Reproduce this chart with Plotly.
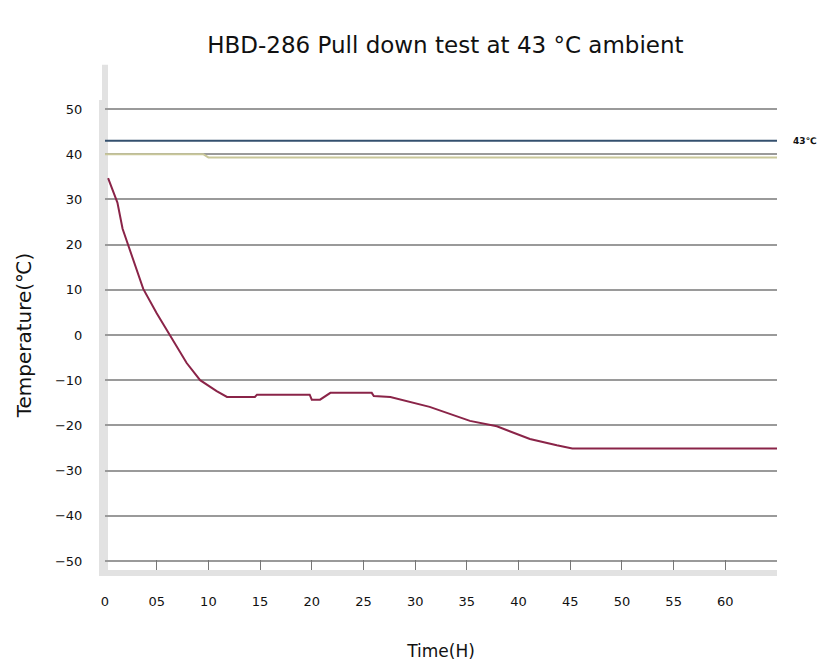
import plotly.graph_objects as go

# Data
time_h = [0.3, 1.2, 1.7, 2.7, 3.7, 5.0, 6.3, 7.9, 9.2, 10.8, 11.8, 14.5, 14.7, 19.8, 20.0, 20.8, 21.8,
          25.8, 26.0, 27.6, 31.4, 35.3, 37.9, 41.1, 43.7, 45.2, 65.0]
box_temp = [34.7, 29.3, 23.5, 17.0, 10.2, 4.8, 0.0, -6.2, -10.0, -12.4, -13.7, -13.7, -13.2, -13.2, -14.3, -14.3,
            -12.8, -12.8, -13.5, -13.7, -15.9, -19.0, -20.2, -23.0, -24.4, -25.1, -25.1]

ambient_time = [0, 65]
ambient_temp = [43, 43]

room_time = [0, 9.5, 10.0, 65]
room_temp = [40.0, 40.0, 39.3, 39.3]

x_ticks = [0, 5, 10, 15, 20, 25, 30, 35, 40, 45, 50, 55, 60, 65]
x_labels = ["0", "05", "10", "15", "20", "25", "30", "35", "40", "45", "50", "55", "60", ""]
y_ticks = [50, 40, 30, 20, 10, 0, -10, -20, -30, -40, -50]

fig = go.Figure()
fig.add_trace(go.Scatter(x=room_time, y=room_temp, mode="lines",
                         line=dict(color="#c9c79a", width=2), showlegend=False))
fig.add_trace(go.Scatter(x=ambient_time, y=ambient_temp, mode="lines",
                         line=dict(color="#34506e", width=2), showlegend=False))
fig.add_trace(go.Scatter(x=time_h, y=box_temp, mode="lines",
                         line=dict(color="#8a2448", width=2), showlegend=False))

fig.add_annotation(x=65, y=43, xref="x", yref="y", text="<b>43℃</b>", showarrow=False,
                   xanchor="left", xshift=14, font=dict(size=9, color="#111"))

# light grey y-axis band extending above the plot, as in the reference
fig.add_shape(type="line", xref="paper", yref="paper", x0=0, x1=0, y0=0, y1=1.075,
              line=dict(color="#e2e2e2", width=6), layer="below")

fig.update_layout(
    width=830, height=666,
    margin=dict(l=97, r=61, t=92, b=104),
    paper_bgcolor="white", plot_bgcolor="white",
    font=dict(family="DejaVu Sans", color="#111"),
    title=dict(text="HBD-286 Pull down test at 43 °C ambient", x=0.527, xanchor="center",
               y=0.944, yanchor="middle", font=dict(size=23, color="#111")),
    xaxis=dict(range=[0, 65], tickvals=x_ticks, ticktext=x_labels, ticks="inside",
               ticklen=10, tickcolor="#777", tickwidth=1, showgrid=False, zeroline=False,
               showline=True, linecolor="#e2e2e2", linewidth=6, ticklabelstandoff=14,
               tickfont=dict(size=13), automargin=False,
               title=dict(text="Time(H)", font=dict(size=17), standoff=40)),
    yaxis=dict(range=[-52, 52], tickvals=y_ticks, showgrid=True, gridcolor="#9a9a9a",
               gridwidth=2, zeroline=False, showline=True, linecolor="#e2e2e2", linewidth=6,
               ticks="", ticklabelstandoff=14, tickfont=dict(size=13), automargin=False,
               title=dict(text="Temperature(℃)", font=dict(size=20), standoff=20)),
)

fig.write_html("out.html")
